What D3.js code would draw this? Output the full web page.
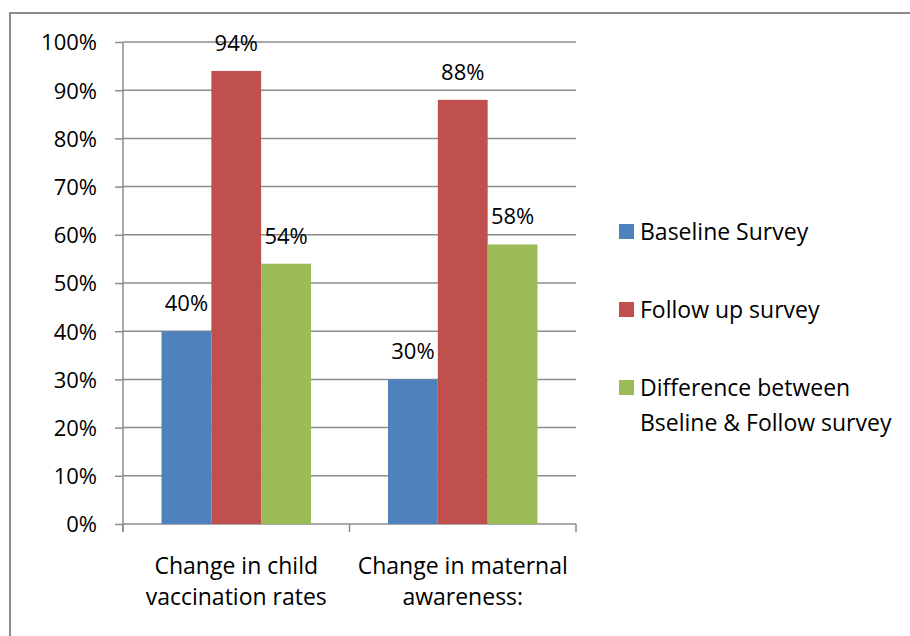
<!DOCTYPE html>
<html>
<head>
<meta charset="utf-8">
<script src="https://cdn.jsdelivr.net/npm/d3@7"></script>
<style>
  body { margin: 0; background: #fff; }
  text { font-family: "Open Sans", "Noto Sans", sans-serif; fill: #000; }
</style>
</head>
<body>
<svg id="chart" width="910" height="636"></svg>
<script>
// chart data
const categories = [
  ["Change in child", "vaccination rates"],
  ["Change in maternal", "awareness:"]
];
const seriesNames = ["Baseline Survey", "Follow up survey", "Difference between|Bseline & Follow survey"];
const seriesColors = ["#4F81BD", "#C0504D", "#9BBB59"];
const baseline = [40, 30];
const followUp = [94, 88];
const difference = [54, 58];
const yTicks = [0, 10, 20, 30, 40, 50, 60, 70, 80, 90, 100];

const values = [baseline, followUp, difference];

const svg = d3.select("#chart");
const margin = { top: 42, left: 123, right: 334, bottom: 112 };
const width = 910 - margin.left - margin.right;
const height = 636 - margin.top - margin.bottom;

// outer border
svg.append("rect")
  .attr("x", 10)
  .attr("y", 13)
  .attr("width", 920)
  .attr("height", 640)
  .attr("fill", "none")
  .attr("stroke", "#8c8c8c")
  .attr("stroke-width", 2);

const g = svg.append("g").attr("transform", `translate(${margin.left},${margin.top})`);

const catKeys = categories.map((d, i) => i);
const x0 = d3.scaleBand().domain(catKeys).range([0, width]).padding(0);
const gap = x0.bandwidth() * 0.17;
const x1 = d3.scaleBand().domain([0, 1, 2]).range([gap, x0.bandwidth() - gap]).padding(0);
const y = d3.scaleLinear().domain([0, 100]).range([height, 0]);

// gridlines
g.selectAll(".grid")
  .data(yTicks.filter((d) => d > 0))
  .enter()
  .append("line")
  .attr("class", "grid")
  .attr("x1", 0)
  .attr("x2", width)
  .attr("y1", (d) => y(d))
  .attr("y2", (d) => y(d))
  .attr("stroke", "#8c8c8c")
  .attr("stroke-width", 1.5);

// y axis
const yAxis = d3.axisLeft(y).tickValues(yTicks).tickSize(8).tickPadding(18).tickFormat((d) => d + "%");
const yAxisGroup = g.append("g").call(yAxis);
yAxisGroup.select(".domain").attr("stroke", "#8c8c8c").attr("stroke-width", 1.5)
  .attr("d", `M0,${height + 8}V0`);
yAxisGroup.selectAll(".tick line").attr("stroke", "#8c8c8c").attr("stroke-width", 1.5);
yAxisGroup.selectAll(".tick text")
  .style("font-size", "22px")
  .style("font-family", "'Open Sans', 'Noto Sans', sans-serif")
  .attr("dy", "0.36em");

// x axis
const xAxisGroup = g.append("g").attr("transform", `translate(0,${height})`);
xAxisGroup.append("line")
  .attr("x1", 0).attr("x2", width).attr("y1", 0).attr("y2", 0)
  .attr("stroke", "#8c8c8c").attr("stroke-width", 1.5);
xAxisGroup.selectAll(".xtick")
  .data([0, 1, 2])
  .enter()
  .append("line")
  .attr("x1", (d) => d * x0.bandwidth())
  .attr("x2", (d) => d * x0.bandwidth())
  .attr("y1", 0)
  .attr("y2", 8)
  .attr("stroke", "#8c8c8c")
  .attr("stroke-width", 1.5);

const catLabels = xAxisGroup.selectAll(".cat")
  .data(categories)
  .enter()
  .append("text")
  .attr("class", "cat")
  .attr("text-anchor", "middle")
  .attr("x", (d, i) => x0(i) + x0.bandwidth() / 2)
  .attr("y", 50)
  .style("font-size", "23px");
catLabels.selectAll("tspan")
  .data((d) => d)
  .enter()
  .append("tspan")
  .attr("x", function () { return d3.select(this.parentNode).attr("x"); })
  .attr("dy", (d, i) => (i === 0 ? 0 : 31))
  .text((d) => d);

// bars
const groups = g.selectAll(".cat-group")
  .data(catKeys)
  .enter()
  .append("g")
  .attr("transform", (d) => `translate(${x0(d)},0)`);

groups.selectAll("rect")
  .data((c) => values.map((v, s) => ({ s: s, v: v[c] })))
  .enter()
  .append("rect")
  .attr("x", (d) => x1(d.s))
  .attr("width", x1.bandwidth())
  .attr("y", (d) => y(d.v))
  .attr("height", (d) => height - y(d.v))
  .attr("fill", (d) => seriesColors[d.s]);

groups.selectAll(".label")
  .data((c) => values.map((v, s) => ({ s: s, v: v[c] })))
  .enter()
  .append("text")
  .attr("class", "label")
  .attr("text-anchor", "middle")
  .attr("x", (d) => x1(d.s) + x1.bandwidth() / 2)
  .attr("y", (d) => y(d.v) - 20)
  .style("font-size", "22px")
  .text((d) => d.v + "%");

// legend
const legend = svg.append("g").attr("transform", "translate(619,224)");
const items = legend.selectAll(".item")
  .data(seriesNames)
  .enter()
  .append("g")
  .attr("transform", (d, i) => `translate(0,${i * 78})`);
items.append("rect")
  .attr("width", 15)
  .attr("height", 15)
  .attr("fill", (d, i) => seriesColors[i]);
const legendText = items.append("text")
  .attr("x", 21)
  .attr("y", 16)
  .style("font-size", "23px");
legendText.selectAll("tspan")
  .data((d) => d.split("|"))
  .enter()
  .append("tspan")
  .attr("x", 21)
  .attr("dy", (d, i) => (i === 0 ? 0 : 35))
  .text((d) => d);
</script>
</body>
</html>
